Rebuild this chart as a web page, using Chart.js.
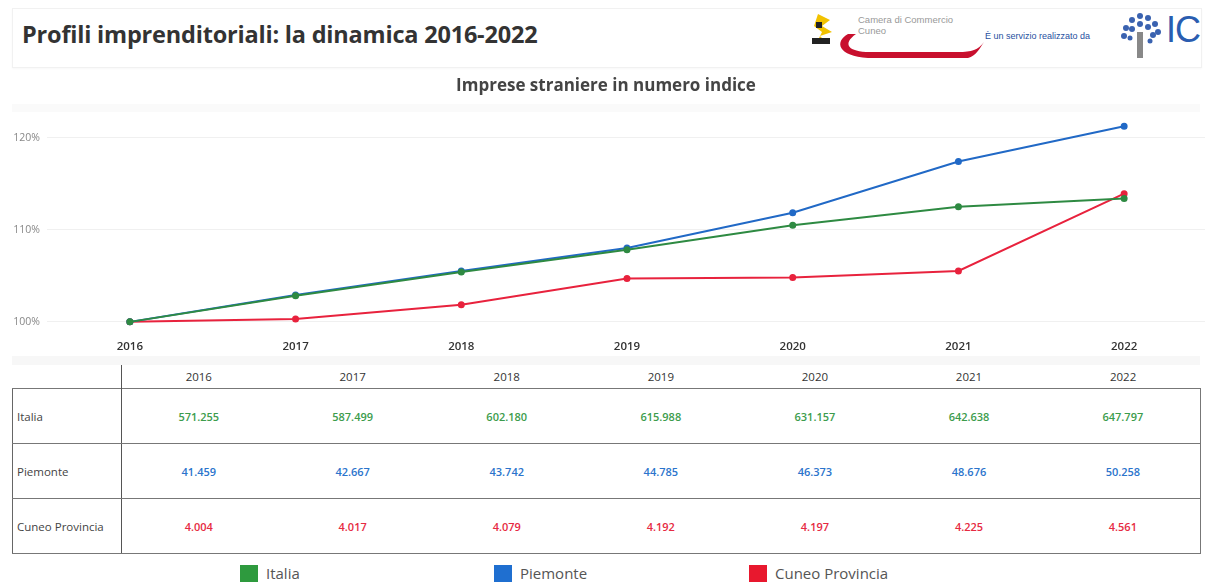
<!DOCTYPE html>
<html>
<head>
<meta charset="utf-8">
<script src="https://cdn.jsdelivr.net/npm/chart.js@4"></script>
<style>
  html, body { margin:0; padding:0; background:#ffffff; }
  body { width:1205px; height:585px; position:relative; overflow:hidden; font-family:"Open Sans", "Noto Sans", sans-serif; }
  #hdr { position:absolute; left:12px; top:8px; width:1188px; height:58px; background:#fff; border:1px solid #f1f1f1; box-shadow:0 1px 2px rgba(0,0,0,0.03); }
  #title { position:absolute; left:22px; top:18px; font-size:23.5px; font-weight:700; color:#333; letter-spacing:-0.2px; white-space:nowrap; }
  #band1 { position:absolute; left:12px; top:104px; width:1188px; height:8px; background:#fafafa; }
  #band2 { position:absolute; left:12px; top:356px; width:1188px; height:9px; background:#f7f7f7; }
  #chartWrap { position:absolute; left:0; top:70px; width:1212px; height:295px; }
  #tbl { position:absolute; left:12px; top:365px; border-collapse:collapse; table-layout:fixed; }
  #tbl td, #tbl th { padding:0; font-size:11px; text-align:center; }
  #tbl th { height:23px; font-weight:400; color:#333; font-size:11.5px; }
  #tbl td { height:54px; border-top:1.5px solid #777; border-bottom:1.5px solid #777; font-weight:600; }
  #tbl td.lab { text-align:left; padding-left:4px; font-weight:400; color:#444; font-size:11.5px; border-left:1.5px solid #666; border-right:1.5px solid #555; }
  #tbl th.lab { border-right:1.5px solid #555; }
  #tbl td.last { border-right:1.5px solid #777; }
  #legend { position:absolute; top:563px; left:0; width:1205px; height:20px; }
  .li { position:absolute; top:0; display:flex; align-items:center; font-size:15px; color:#555; }
  .sw { width:18px; height:17px; margin-right:8px; }
  .logotext { position:absolute; font-family:"Liberation Sans", sans-serif; }
</style>
</head>
<body>
<div id="hdr"></div>
<div id="title">Profili imprenditoriali: la dinamica 2016-2022</div>

<!-- header logos (decorative) -->
<svg style="position:absolute;left:808px;top:12px" width="180" height="50">
  <polygon points="10,2 22,8 14,14 24,20 12,24 18,30 8,32 14,20 6,14" fill="#f2c200"/>
  <rect x="4" y="26" width="18" height="6" fill="#222"/>
  <rect x="8" y="10" width="6" height="6" fill="#222"/>
  <path d="M40,22 C26,30 30,44 60,46 L160,46 C168,44 172,36 176,30 C170,38 164,40 150,40 L62,40 C40,40 34,32 48,22 Z" fill="#c8102e"/>
</svg>
<div class="logotext" style="left:858px;top:14px;font-size:9.5px;color:#999;line-height:11px">Camera di Commercio<br>Cuneo</div>
<div class="logotext" style="left:985px;top:31px;font-size:9px;color:#1f4fa0;">È un servizio realizzato da</div>
<svg style="position:absolute;left:1118px;top:10px" width="46" height="52">
  <g fill="#3a62b0">
    <circle cx="8" cy="18" r="3"/><circle cx="14" cy="10" r="3"/><circle cx="22" cy="6" r="3"/><circle cx="30" cy="8" r="3"/><circle cx="37" cy="14" r="3"/><circle cx="40" cy="22" r="3"/>
    <circle cx="6" cy="26" r="3"/><circle cx="14" cy="19" r="3"/><circle cx="22" cy="14" r="3"/><circle cx="30" cy="17" r="3"/><circle cx="35" cy="25" r="3"/><circle cx="12" cy="28" r="2.5"/><circle cx="32" cy="31" r="2.5"/>
  </g>
  <rect x="19" y="22" width="6" height="26" fill="#888"/>
</svg>
<div class="logotext" style="left:1166px;top:9px;font-size:36px;color:#2a5db0;letter-spacing:-1px;font-family:'Liberation Sans Narrow','Liberation Sans',sans-serif">IC</div>

<div id="band1"></div>
<div id="band2"></div>
<div id="chartWrap"><canvas id="c" width="1212" height="295"></canvas></div>

<table id="tbl"></table>

<div id="legend"></div>

<script>
// ---- data ----
const years = ['2016', '2017', '2018', '2019', '2020', '2021', '2022'];
const seriesNames = ['Italia', 'Piemonte', 'Cuneo Provincia'];
// index numbers (2016 = 100)
const italiaIndex   = [100, 102.84, 105.41, 107.83, 110.49, 112.50, 113.40];
const piemonteIndex = [100, 102.91, 105.51, 108.02, 111.85, 117.41, 121.22];
const cuneoIndex    = [100, 100.32, 101.87, 104.70, 104.82, 105.52, 113.91];
// counts shown in the table
const italiaCount   = [571255, 587499, 602180, 615988, 631157, 642638, 647797];
const piemonteCount = [41459, 42667, 43742, 44785, 46373, 48676, 50258];
const cuneoCount    = [4004, 4017, 4079, 4192, 4197, 4225, 4561];
const yTicks = [100, 110, 120];

const lineColors = ['#2e8a42', '#2169c6', '#e8223d'];
const textColors = ['#3c9c4c', '#2b74cc', '#e62a42'];
const legendColors = ['#2e9a3e', '#1f6fd0', '#e8182e'];

function fmt(n) {
  return String(n).replace(/\B(?=(\d{3})+(?!\d))/g, '.');
}

// ---- table ----
const tbl = document.getElementById('tbl');
const colW = [109].concat(years.map(() => 154.1));
let html = '<colgroup>' + colW.map(w => '<col style="width:' + w + 'px">').join('') + '</colgroup>';
html += '<tr><th class="lab"></th>' + years.map(y => '<th>' + y + '</th>').join('') + '</tr>';
const counts = [italiaCount, piemonteCount, cuneoCount];
seriesNames.forEach((name, i) => {
  html += '<tr><td class="lab">' + name + '</td>' +
    counts[i].map((v, j) => '<td' + (j === years.length - 1 ? ' class="last"' : '') +
      ' style="color:' + textColors[i] + '">' + fmt(v) + '</td>').join('') + '</tr>';
});
tbl.innerHTML = html;

// ---- legend ----
const legend = document.getElementById('legend');
const legendX = [240, 494, 749];
seriesNames.forEach((name, i) => {
  const d = document.createElement('div');
  d.className = 'li';
  d.style.left = legendX[i] + 'px';
  d.innerHTML = '<div class="sw" style="background:' + legendColors[i] + '"></div>' + name;
  legend.appendChild(d);
});

// ---- chart ----
const indexSeries = [italiaIndex, piemonteIndex, cuneoIndex];
new Chart(document.getElementById('c'), {
  type: 'line',
  data: {
    labels: years,
    datasets: seriesNames.map((name, i) => ({
      label: name,
      data: indexSeries[i],
      borderColor: lineColors[i],
      backgroundColor: lineColors[i],
      borderWidth: 2,
      pointRadius: 2.5,
      pointHoverRadius: 3,
      tension: 0,
      fill: false
    }))
  },
  options: {
    responsive: false,
    animation: false,
    layout: { padding: { left: 0, right: 0, top: 0, bottom: 0 } },
    plugins: {
      legend: { display: false },
      tooltip: { enabled: false },
      title: {
        display: true,
        text: 'Imprese straniere in numero indice',
        color: '#444',
        font: { family: '"Open Sans", sans-serif', size: 17, weight: '700' },
        padding: { top: 6, bottom: 14 }
      }
    },
    scales: {
      x: {
        type: 'category',
        offset: true,
        grid: { display: false, drawTicks: false },
        border: { display: false },
        ticks: {
          color: '#333',
          padding: 8,
          font: { family: '"Open Sans", sans-serif', size: 11.5, weight: '600' }
        },
        afterFit: (s) => { s.height = 33; }
      },
      y: {
        min: 98.9,
        max: 122.95,
        grid: { color: '#f0f0f0', lineWidth: 1, drawTicks: false },
        border: { display: false },
        ticks: {
          color: '#888',
          padding: 7,
          font: { family: '"Open Sans", sans-serif', size: 10.5 },
          callback: (v) => v + '%'
        },
        afterBuildTicks: (axis) => { axis.ticks = yTicks.map(v => ({ value: v })); },
        afterFit: (s) => { s.width = 47; }
      }
    }
  }
});
</script>
</body>
</html>
